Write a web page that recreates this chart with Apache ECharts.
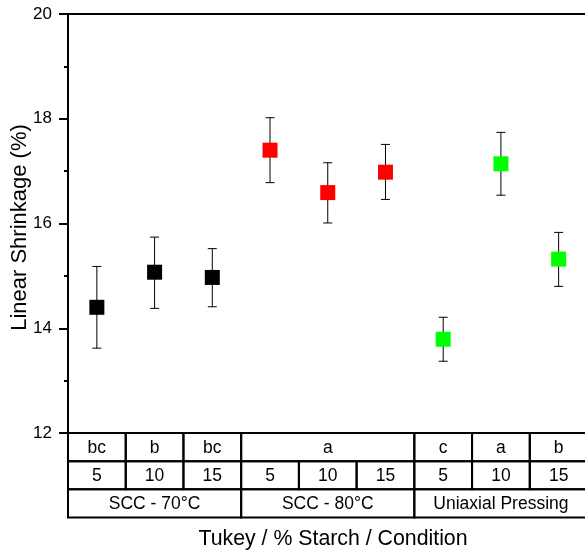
<!DOCTYPE html>
<html>
<head>
<meta charset="utf-8">
<script src="https://cdn.jsdelivr.net/npm/echarts@6/dist/echarts.min.js"></script>
<style>html,body{margin:0;padding:0;background:#fff;}#c{width:585px;height:554px;}</style>
</head>
<body>
<div id="c"></div>
<script>
// ---- data ----
const categories = ['5', '10', '15', '5', '10', '15', '5', '10', '15'];
const means   = [14.40, 15.07, 14.97, 17.40, 16.59, 16.98, 13.79, 17.14, 15.32];
const errLow  = [13.62, 14.38, 14.41, 16.78, 16.01, 16.46, 13.37, 16.54, 14.80];
const errHigh = [15.18, 15.74, 15.52, 18.02, 17.16, 17.51, 14.21, 17.74, 15.83];
const groupOf = [0, 0, 0, 1, 1, 1, 2, 2, 2];
const groupColors = ['#000000', '#ff0000', '#00ff00'];
const tukeyCells = [[0, 1, 'bc'], [1, 2, 'b'], [2, 3, 'bc'], [3, 6, 'a'], [6, 7, 'c'], [7, 8, 'a'], [8, 9, 'b']];
const starchCells = categories.map((c, i) => [i, i + 1, c]);
const conditionCells = [[0, 3, 'SCC - 70°C'], [3, 6, 'SCC - 80°C'], [6, 9, 'Uniaxial Pressing']];
const yTicks = { min: 12, max: 20, interval: 2 };

const FONT = 'Liberation Sans, Arial, sans-serif';

const tableData = [];
tukeyCells.forEach(c => tableData.push([c[0], c[1], 0, c[2]]));
starchCells.forEach(c => tableData.push([c[0], c[1], 1, c[2]]));
conditionCells.forEach(c => tableData.push([c[0], c[1], 2, c[2]]));

const chart = echarts.init(document.getElementById('c'), null, { renderer: 'canvas' });
const plotLeft = 68, plotWidth = 519.5;

chart.setOption({
  animation: false,
  backgroundColor: '#ffffff',
  grid: [
    { left: plotLeft, width: plotWidth, top: 14, height: 419, containLabel: false, outerBoundsMode: 'none' },
    { left: plotLeft, width: plotWidth, top: 433, height: 84.5, containLabel: false, outerBoundsMode: 'none' }
  ],
  xAxis: [
    { type: 'category', gridIndex: 0, data: categories, boundaryGap: true,
      axisLine: { show: false }, axisTick: { show: false }, axisLabel: { show: false }, splitLine: { show: false } },
    { type: 'category', gridIndex: 0, position: 'top', data: categories,
      axisLine: { show: true, lineStyle: { color: '#000', width: 2 } }, axisTick: { show: false }, axisLabel: { show: false } },
    { type: 'value', gridIndex: 1, min: 0, max: 9, show: false }
  ],
  yAxis: [
    { type: 'value', gridIndex: 0, min: yTicks.min, max: yTicks.max, interval: yTicks.interval,
      name: 'Linear Shrinkage (%)', nameLocation: 'middle', nameGap: 37, nameMoveOverlap: false,
      nameTextStyle: { fontSize: 22, fontFamily: FONT, color: '#000', padding: [0, 8, 0, 0] },
      axisLine: { show: true, lineStyle: { color: '#000', width: 2 } },
      axisTick: { show: true, inside: false, length: 9, lineStyle: { color: '#000', width: 2 } },
      minorTick: { show: true, splitNumber: 2, length: 4, lineStyle: { color: '#000', width: 2 } },
      axisLabel: { margin: 16, fontSize: 17, fontFamily: FONT, color: '#000' },
      splitLine: { show: false } },
    { type: 'value', gridIndex: 1, min: 0, max: 3, inverse: true, show: false }
  ],
  graphic: [
    { type: 'text', x: 333, y: 539, style: { text: 'Tukey / % Starch / Condition', align: 'center', verticalAlign: 'middle', fontSize: 21.3, fontFamily: FONT, fill: '#000' } }
  ],
  series: [
    {
      type: 'custom', xAxisIndex: 0, yAxisIndex: 0, z: 2,
      data: means.map((m, i) => [i, errLow[i], errHigh[i]]),
      renderItem: function (params, api) {
        const x = api.value(0);
        const lo = api.coord([x, api.value(1)]);
        const hi = api.coord([x, api.value(2)]);
        const hw = 4.5;
        const st = { stroke: '#000', lineWidth: 1 };
        return { type: 'group', children: [
          { type: 'line', shape: { x1: lo[0], y1: lo[1], x2: hi[0], y2: hi[1] }, style: st },
          { type: 'line', shape: { x1: lo[0] - hw, y1: lo[1], x2: lo[0] + hw, y2: lo[1] }, style: st },
          { type: 'line', shape: { x1: hi[0] - hw, y1: hi[1], x2: hi[0] + hw, y2: hi[1] }, style: st }
        ] };
      }
    },
    {
      type: 'scatter', xAxisIndex: 0, yAxisIndex: 0, z: 3,
      symbol: 'rect', symbolSize: 15,
      data: means.map((m, i) => ({ value: [i, m], itemStyle: { color: groupColors[groupOf[i]], opacity: 1 } }))
    },
    {
      type: 'custom', xAxisIndex: 2, yAxisIndex: 1, z: 4,
      data: tableData,
      renderItem: function (params, api) {
        const x0 = api.value(0), x1 = api.value(1), r = api.value(2);
        const p0 = api.coord([x0, r]);
        const p1 = api.coord([x1, r + 1]);
        const label = tableData[params.dataIndex][3];
        return { type: 'group', children: [
          { type: 'rect', shape: { x: p0[0], y: p0[1], width: p1[0] - p0[0], height: p1[1] - p0[1] },
            style: { fill: 'transparent', stroke: '#000', lineWidth: 2 } },
          { type: 'text', style: { x: (p0[0] + p1[0]) / 2, y: (p0[1] + p1[1]) / 2 + 1, text: label,
            align: 'center', verticalAlign: 'middle', fontSize: 17.5, fontFamily: FONT, fill: '#000' } }
        ] };
      }
    }
  ]
});
</script>
</body>
</html>
